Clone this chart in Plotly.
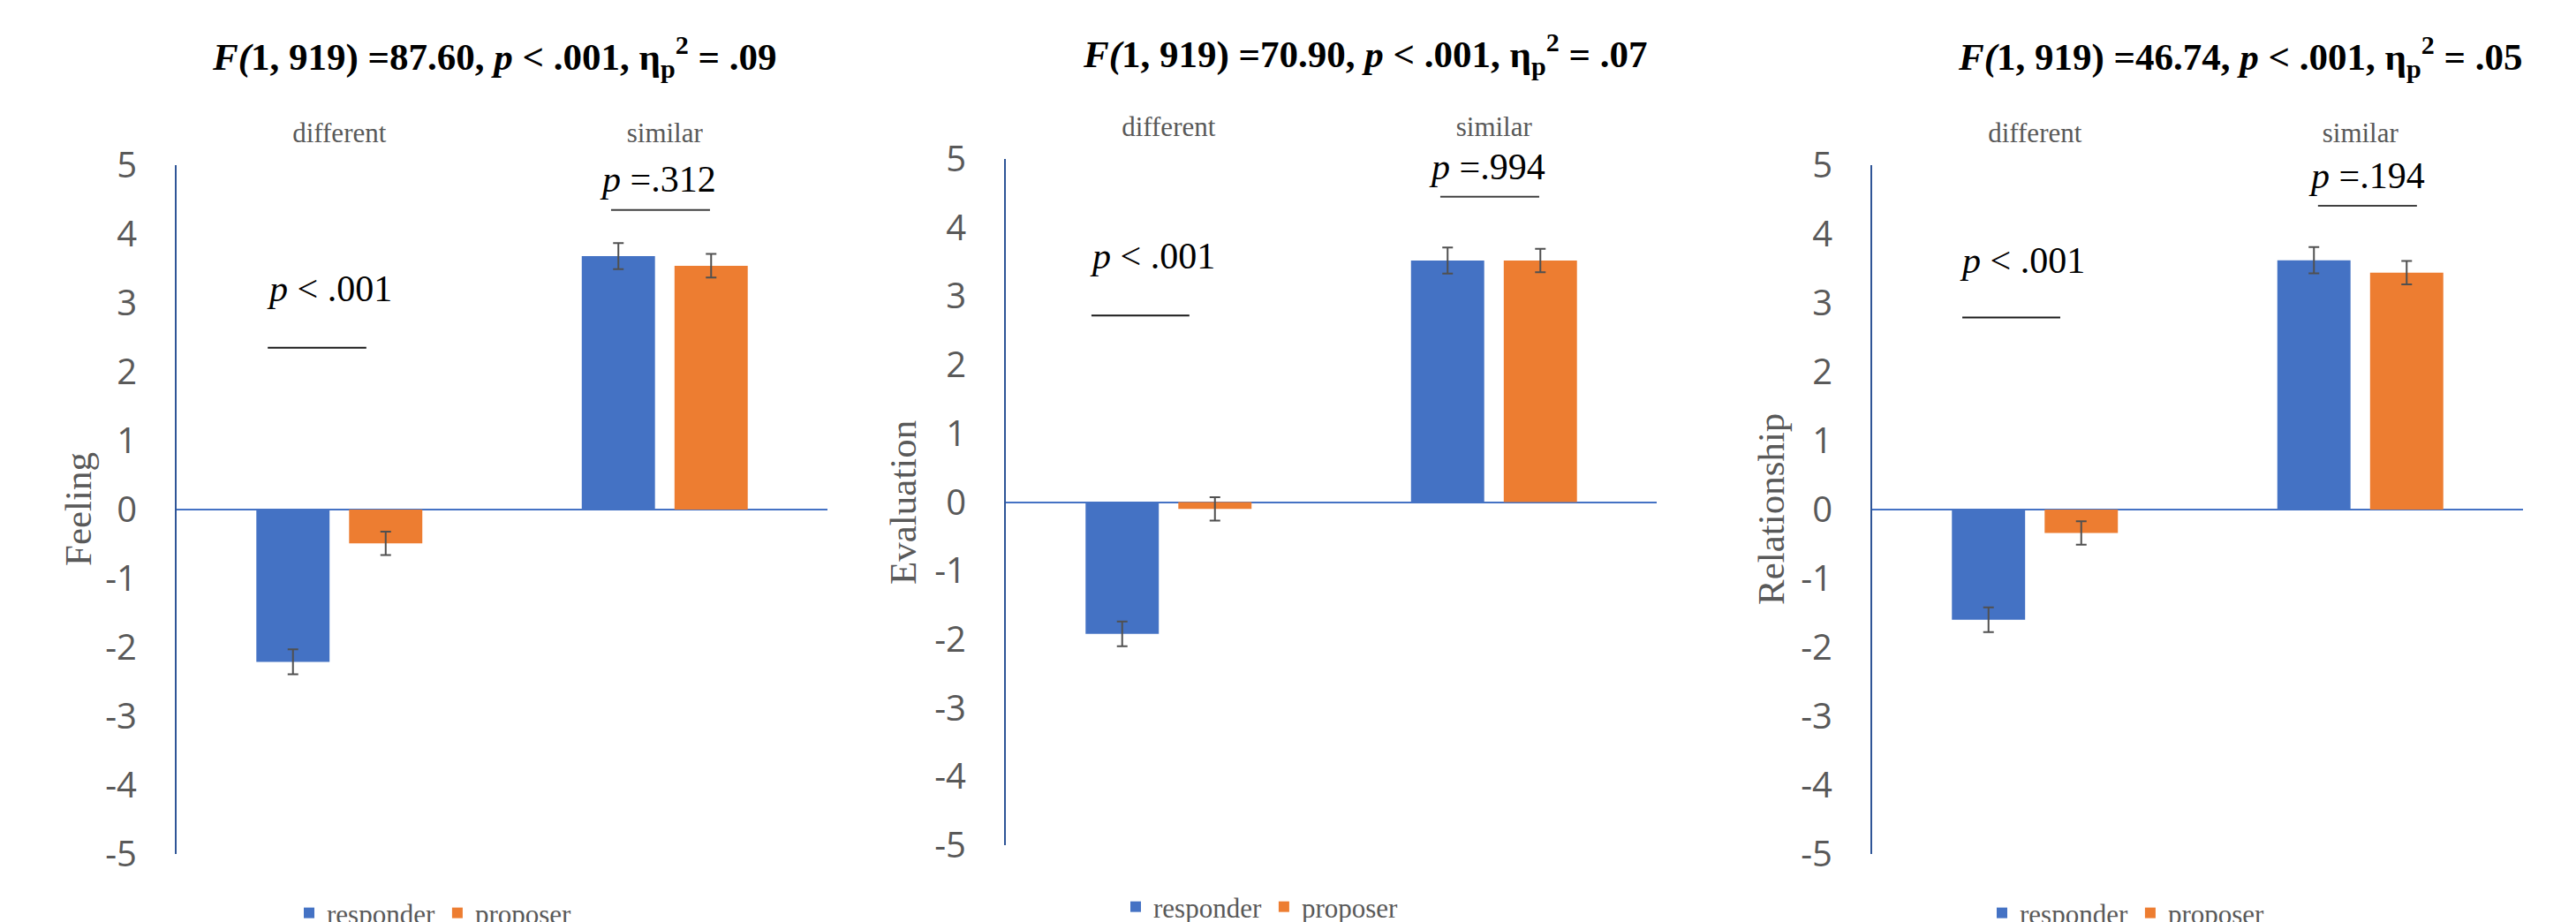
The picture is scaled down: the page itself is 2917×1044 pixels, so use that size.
import plotly.graph_objects as go

# ---- data -------------------------------------------------------------
conditions = ["different", "similar"]
measures = ["Feeling", "Evaluation", "Relationship"]
roles = ["responder", "proposer"]

feeling_responder = [-2.21, 3.68]
feeling_proposer = [-0.49, 3.54]
feeling_responder_se = [0.18, 0.19]
feeling_proposer_se = [0.17, 0.17]

evaluation_responder = [-1.92, 3.52]
evaluation_proposer = [-0.10, 3.52]
evaluation_responder_se = [0.18, 0.19]
evaluation_proposer_se = [0.17, 0.17]

relationship_responder = [-1.60, 3.62]
relationship_proposer = [-0.34, 3.44]
relationship_responder_se = [0.18, 0.19]
relationship_proposer_se = [0.17, 0.17]

f_stats = ["87.60", "70.90", "46.74"]
eta_sq = [".09", ".07", ".05"]
p_different = ["< .001", "< .001", "< .001"]
p_similar = ["=.312", "=.994", "=.194"]

y_ticks = [5, 4, 3, 2, 1, 0, -1, -2, -3, -4, -5]
y_tick_labels = ["5", "4", "3", "2", "1", "0", "-1", "-2", "-3", "-4", "-5"]

# ---- styling ----------------------------------------------------------
W, H = 2917, 1044
BLUE = "#4472C4"
ORANGE = "#ED7D31"
AXIS_BLUE = "#2F5597"
GREY = "#595959"
ERR = "#505050"
SERIF = "Liberation Serif"
SANS = "Open Sans"

def px_x(p):
    return p / W

def px_y(p):
    return (H - p) / H

# plot-area rectangles in pixels: (left, right, top, bottom)
areas = [(200, 937, 187, 967), (1139, 1876, 180, 957), (2120, 2857, 187, 967)]
title_pos = [(560, 65), (1546, 62), (2537, 65)]
ytitle_pos = [(88, 577), (1022, 569), (2005, 577)]
legend_pos = [(330, 1034), (1266, 1027), (2247, 1034)]
# p-value labels and bracket lines, in data coordinates (category index, value)
p_diff_pos = [(-0.03, 3.2), (-0.05, 3.59), (-0.04, 3.62)]
p_diff_line = [(-0.22, 0.083, 2.35), (-0.237, 0.064, 2.72), (-0.223, 0.078, 2.79)]
p_sim_pos = [(0.98, 4.8), (0.98, 4.885), (1.02, 4.85)]
p_sim_line = [(0.835, 1.139, 4.35), (0.835, 1.139, 4.45), (0.87, 1.174, 4.41)]

series = [
    (feeling_responder, feeling_proposer, feeling_responder_se, feeling_proposer_se),
    (evaluation_responder, evaluation_proposer, evaluation_responder_se, evaluation_proposer_se),
    (relationship_responder, relationship_proposer, relationship_responder_se, relationship_proposer_se),
]

BAR_W = 0.225
BAR_GAP = 0.06

fig = go.Figure()
layout = {}
annotations = []
shapes = []

for i, (resp, prop, resp_se, prop_se) in enumerate(series):
    sfx = "" if i == 0 else str(i + 1)
    xa, ya = "x" + sfx, "y" + sfx
    lg = "legend" + sfx
    for name, vals, se, color, off in [
        (roles[0], resp, resp_se, BLUE, -(BAR_W + BAR_GAP / 2)),
        (roles[1], prop, prop_se, ORANGE, BAR_GAP / 2),
    ]:
        fig.add_trace(go.Bar(
            x=conditions, y=vals, name=name,
            marker=dict(color=color, line=dict(width=0)),
            width=BAR_W, offset=off,
            error_y=dict(type="data", array=se, color=ERR, thickness=2, width=6),
            xaxis=xa, yaxis=ya, legend=lg, showlegend=True,
        ))

    left, right, top, bottom = areas[i]
    layout["xaxis" + sfx] = dict(
        domain=[px_x(left), px_x(right)], anchor=ya, side="top",
        type="category", range=[-0.5, 1.5],
        showline=False, showgrid=False, zeroline=False, ticks="",
        tickfont=dict(family=SERIF, size=31, color=GREY),
        ticklabelstandoff=19,
    )
    layout["yaxis" + sfx] = dict(
        domain=[px_y(bottom), px_y(top)], anchor=xa,
        range=[-5, 5], tickvals=y_ticks, ticktext=y_tick_labels, ticks="",
        showline=True, linecolor=AXIS_BLUE, linewidth=2,
        showgrid=False, zeroline=True, zerolinecolor=BLUE, zerolinewidth=2,
        tickfont=dict(family=SANS, size=40, color=GREY),
        ticklabelstandoff=35, layer="above traces",
    )
    lx, ly = legend_pos[i]
    layout[lg] = dict(
        orientation="h", x=px_x(lx), y=px_y(ly), xanchor="left", yanchor="middle",
        xref="paper", yref="paper",
        font=dict(family=SERIF, size=31, color=GREY),
        bgcolor="rgba(0,0,0,0)", traceorder="normal",
    )

    tx, ty = title_pos[i]
    annotations.append(dict(
        x=px_x(tx), y=px_y(ty), xref="paper", yref="paper",
        xanchor="center", yanchor="middle", showarrow=False,
        text=("<b><i>F(</i>1, 919) =" + f_stats[i] + ", <i>p</i> &lt; .001, "
              "η<sub>p</sub><sup>2</sup> = " + eta_sq[i] + "</b>"),
        font=dict(family=SERIF, size=43, color="black"),
    ))
    yx, yy = ytitle_pos[i]
    annotations.append(dict(
        x=px_x(yx), y=px_y(yy), xref="paper", yref="paper",
        xanchor="center", yanchor="middle", showarrow=False, textangle=-90,
        text=measures[i], font=dict(family=SERIF, size=43, color=GREY),
    ))
    dx, dy = p_diff_pos[i]
    annotations.append(dict(
        x=dx, y=dy, xref=xa, yref=ya, xanchor="center", yanchor="middle",
        showarrow=False, text="<i>p</i> " + p_different[i].replace("<", "&lt;"),
        font=dict(family=SERIF, size=42, color="black"),
    ))
    sx, sy = p_sim_pos[i]
    annotations.append(dict(
        x=sx, y=sy, xref=xa, yref=ya, xanchor="center", yanchor="middle",
        showarrow=False, text="<i>p</i> " + p_similar[i],
        font=dict(family=SERIF, size=42, color="black"),
    ))
    x0, x1, yv = p_diff_line[i]
    shapes.append(dict(type="line", xref=xa, yref=ya, x0=x0, x1=x1, y0=yv, y1=yv,
                       line=dict(color="#1a1a1a", width=2)))
    x0, x1, yv = p_sim_line[i]
    shapes.append(dict(type="line", xref=xa, yref=ya, x0=x0, x1=x1, y0=yv, y1=yv,
                       line=dict(color="#404040", width=2)))

fig.update_layout(
    **layout,
    width=W, height=H,
    margin=dict(l=0, r=0, t=0, b=0, autoexpand=False),
    paper_bgcolor="white", plot_bgcolor="white",
    barmode="overlay",
    annotations=annotations, shapes=shapes,
    template="none",
)

fig.write_html("out.html")
